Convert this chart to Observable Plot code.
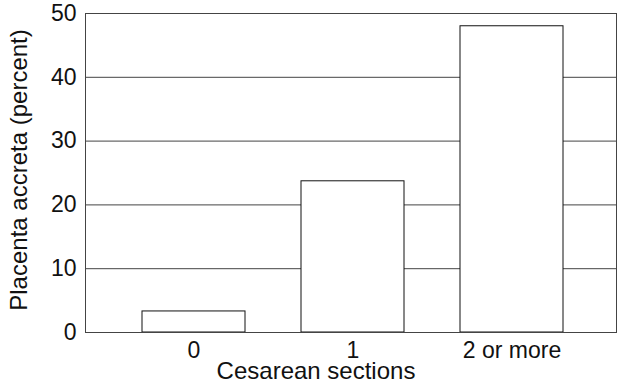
<!DOCTYPE html>
<html><head><meta charset="utf-8">
<script src="https://cdn.jsdelivr.net/npm/d3@7"></script>
<script src="https://cdn.jsdelivr.net/npm/@observablehq/plot@0.6"></script>
<style>body{margin:0;background:#fff}</style>
</head><body><div id="chart"></div>
<script>
const categories = ["0", "1", "2 or more"];
const values = [3.3, 23.7, 48.0];
const yTicks = [0, 10, 20, 30, 40, 50];
const xLabel = "Cesarean sections";
const yLabel = "Placenta accreta (percent)";

const data = categories.map((c, i) => ({cat: c, value: values[i]}));

const chart = Plot.plot({
  width: 617, height: 389,
  marginLeft: 85, marginRight: 1, marginTop: 13, marginBottom: 57,
  style: {fontFamily: "'Liberation Sans', Arial, Helvetica, sans-serif", fontSize: "23px", color: "#111", background: "#fff"},
  x: {domain: categories, paddingInner: 0.35, paddingOuter: 0.34, align: 0.52},
  y: {domain: [0, 50]},
  marks: [
    Plot.ruleY(yTicks, {stroke: "#444", strokeWidth: 1}),
    Plot.barY(data, {x: "cat", y: "value", fill: "white", stroke: "#111", strokeWidth: 1}),
    Plot.frame({stroke: "#444"}),
    Plot.axisX({tickSize: 0, tickPadding: 9, label: null, fontSize: 23}),
    Plot.axisY(yTicks, {tickSize: 0, tickPadding: 9, label: null, fontSize: 23}),
    Plot.text([xLabel], {frameAnchor: "bottom", textAnchor: "middle", lineAnchor: "bottom", dx: -35, dy: 46, fontSize: 24, fill: "#111"}),
    Plot.text([yLabel], {frameAnchor: "left", textAnchor: "middle", lineAnchor: "middle", rotate: -90, dx: -66, dy: -3, fontSize: 24, fill: "#111"})
  ]
});
document.getElementById("chart").appendChild(chart);
</script>
</body></html>
